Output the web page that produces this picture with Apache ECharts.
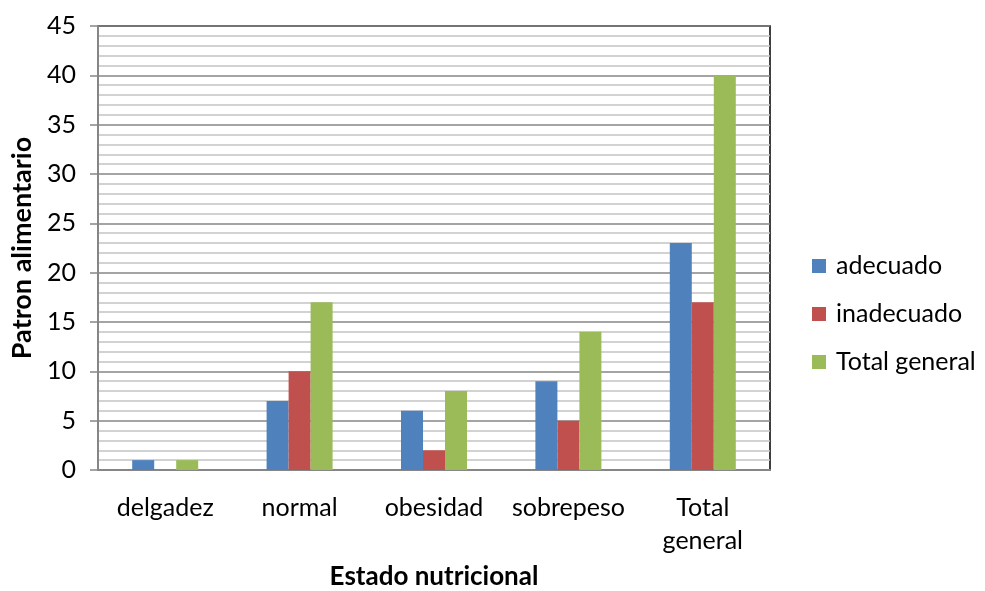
<!DOCTYPE html>
<html>
<head>
<meta charset="utf-8">
<script src="https://cdn.jsdelivr.net/npm/echarts@6/dist/echarts.min.js"></script>
<style>
  html, body { margin: 0; padding: 0; background: #fff; }
  #chart { width: 985px; height: 591px; }
</style>
</head>
<body>
<div id="chart"></div>
<script>
// Estado nutricional vs patrón alimentario
const categories = ['delgadez', 'normal', 'obesidad', 'sobrepeso', 'Total general'];
const adecuado = [1, 7, 6, 9, 23];
const inadecuado = [null, 10, 2, 5, 17];
const totalGeneral = [1, 17, 8, 14, 40];
const seriesNames = ['adecuado', 'inadecuado', 'Total general'];
const seriesColors = ['#4F81BD', '#C0504D', '#9BBB59'];
const yTicks = { min: 0, max: 45, interval: 5 };

const FONT = 'Lato, "Open Sans", sans-serif';
const FS = 25;

const chart = echarts.init(document.getElementById('chart'), null, { renderer: 'canvas' });

const seriesData = [adecuado, inadecuado, totalGeneral];

chart.setOption({
  animation: false,
  textStyle: { fontFamily: FONT, color: '#000' },
  grid: {
    left: 98, right: 215, top: 26, bottom: 121,
    containLabel: false,
    outerBoundsMode: 'none',
    show: true, borderColor: '#000', borderWidth: 1.5, backgroundColor: 'transparent'
  },
  legend: {
    orient: 'vertical',
    left: 807,
    top: 247,
    itemWidth: 14,
    itemHeight: 14,
    itemGap: 20,
    icon: 'rect',
    textStyle: { fontFamily: FONT, fontSize: FS, lineHeight: 28, color: '#000', padding: [0, 0, 0, 5] },
    data: seriesNames
  },
  xAxis: {
    type: 'category',
    data: categories,
    name: 'Estado nutricional',
    nameLocation: 'middle',
    nameGap: 94,
    nameTextStyle: { fontFamily: FONT, fontSize: 26, fontWeight: 'bold', color: '#000' },
    axisLine: { show: true, lineStyle: { color: '#868686', width: 2 } },
    axisTick: { show: false },
    axisLabel: {
      fontFamily: FONT, fontSize: FS, color: '#000', margin: 21, lineHeight: 33,
      interval: 0,
      formatter: v => v.replace(' ', '\n')
    }
  },
  yAxis: {
    type: 'value',
    min: yTicks.min, max: yTicks.max, interval: yTicks.interval,
    name: 'Patron alimentario',
    nameLocation: 'middle',
    nameGap: 59,
    nameTextStyle: { fontFamily: FONT, fontSize: 27, fontWeight: 'bold', color: '#000' },
    axisLine: { show: true, lineStyle: { color: '#868686', width: 2 } },
    axisTick: { show: true, inside: false, length: 8, lineStyle: { color: '#868686', width: 1.5 } },
    axisLabel: { fontFamily: FONT, fontSize: FS, color: '#000', margin: 22 },
    splitLine: { show: true, lineStyle: { color: '#868686', width: 1.5 } },
    minorTick: { show: false, splitNumber: 5 },
    minorSplitLine: { show: true, lineStyle: { color: '#C4C4C4', width: 1.5 } }
  },
  series: seriesNames.map((name, i) => ({
    name,
    type: 'bar',
    data: seriesData[i],
    barWidth: 22,
    barGap: '0%',
    itemStyle: { color: seriesColors[i] }
  }))
});
</script>
</body>
</html>
